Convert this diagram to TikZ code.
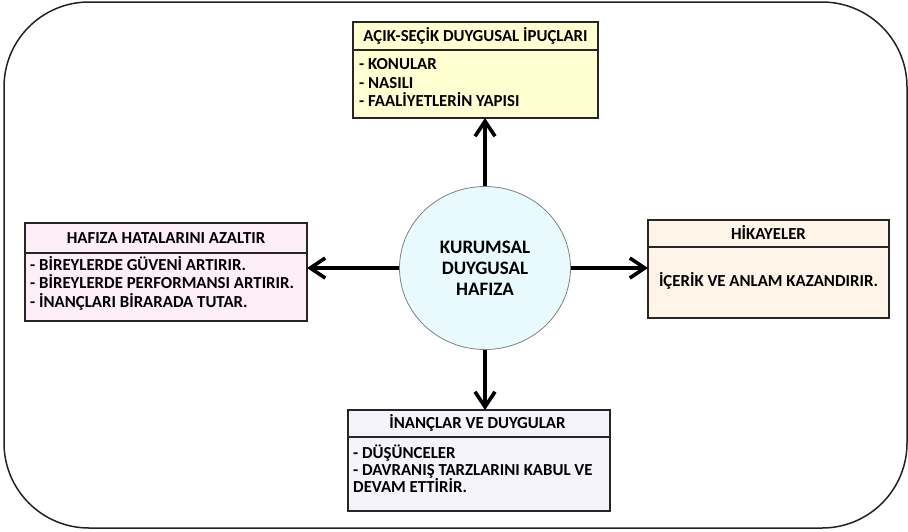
\documentclass[tikz,border=0pt]{standalone}
\usepackage{fontspec}
\setmainfont{Carlito}
\usetikzlibrary{arrows.meta,shapes.geometric}

\definecolor{frameline}{HTML}{222222}
\definecolor{boxline}{HTML}{262626}
\definecolor{fillyellow}{HTML}{FFFFD2}
\definecolor{fillpink}{HTML}{FDEEF8}
\definecolor{fillpeach}{HTML}{FEF4E8}
\definecolor{filllav}{HTML}{F4F4FA}
\definecolor{fillcyan}{HTML}{E8FAFD}
\definecolor{ellline}{HTML}{808080}

\tikzset{
  panel/.style={draw=boxline, line width=1.3pt, inner sep=0pt, outer sep=0pt},
  divider/.style={draw=boxline, line width=1.1pt},
  headtext/.style={font=\bfseries\fontsize{16.8}{20}\selectfont, inner sep=0pt, text height=10.8pt, text depth=0pt},
  linetext/.style={font=\bfseries\fontsize{16.8}{20}\selectfont, inner sep=0pt, anchor=west, text height=10.8pt, text depth=0pt},
  hub/.style={ellipse, draw=ellline, line width=0.8pt, fill=fillcyan, minimum width=171pt, minimum height=163pt, inner sep=0pt,
              align=center, font=\bfseries\fontsize{19}{21}\selectfont},
  link/.style={line width=3.6pt, -{Straight Barb[length=15pt, width=20pt, line width=3.6pt]}},
}

\begin{document}
\begin{tikzpicture}[x=1pt, y=-1pt]
  \useasboundingbox (0,0) rectangle (908,531);

  % outer frame
  \draw[frameline, line width=1.5pt, rounded corners=85pt] (4,2) rectangle (907,528);

  % central ellipse
  \node[hub] (hub) at (485,268) {KURUMSAL\\DUYGUSAL\\HAFIZA};

  % top panel
  \node[panel, fill=fillyellow, minimum width=245pt, minimum height=96pt] (top) at (475.5,70) {};
  \draw[divider] (353,50) -- (598,50);
  \node[headtext] (topH) at (475.5,36) {AÇIK-SEÇİK DUYGUSAL İPUÇLARI};
  \node[linetext] (top1) at (359,64.5) {- KONULAR};
  \node[linetext] (top2) at (359,83) {- NASILI};
  \node[linetext] (top3) at (359,101.5) {- FAALİYETLERİN YAPISI};

  % left panel
  \node[panel, fill=fillpink, minimum width=282pt, minimum height=98pt] (left) at (166,272) {};
  \draw[divider] (25,253) -- (307,253);
  \node[headtext] (leftH) at (166,238) {HAFIZA HATALARINI AZALTIR};
  \node[linetext] (left1) at (30,265) {- BİREYLERDE GÜVENİ ARTIRIR.};
  \node[linetext] (left2) at (30,283.5) {- BİREYLERDE PERFORMANSI ARTIRIR.};
  \node[linetext] (left3) at (30,302) {- İNANÇLARI BİRARADA TUTAR.};

  % right panel
  \node[panel, fill=fillpeach, minimum width=241pt, minimum height=98pt] (right) at (768.5,269) {};
  \draw[divider] (648,247) -- (889,247);
  \node[headtext] (rightH) at (768.5,234) {HİKAYELER};
  \node[headtext] (right1) at (768.5,281) {İÇERİK VE ANLAM KAZANDIRIR.};

  % bottom panel
  \node[panel, fill=filllav, minimum width=262pt, minimum height=101pt] (bottom) at (479,460.5) {};
  \draw[divider] (348,437) -- (610,437);
  \node[headtext] (bottomH) at (477.5,423) {İNANÇLAR VE DUYGULAR};
  \node[linetext] (bottom1) at (353,453) {- DÜŞÜNCELER};
  \node[linetext] (bottom2) at (353,470) {- DAVRANIŞ TARZLARINI KABUL VE};
  \node[linetext] (bottom3) at (353,487) {DEVAM ETTİRİR.};

  % connectors from the hub
  \draw[link] (hub.north) -- (hub.north |- top.south);
  \draw[link] (hub.west) -- (left.east |- hub.west);
  \draw[link] (hub.east) -- (right.west |- hub.east);
  \draw[link] (hub.south) -- (hub.south |- bottom.north);
\end{tikzpicture}
\end{document}
